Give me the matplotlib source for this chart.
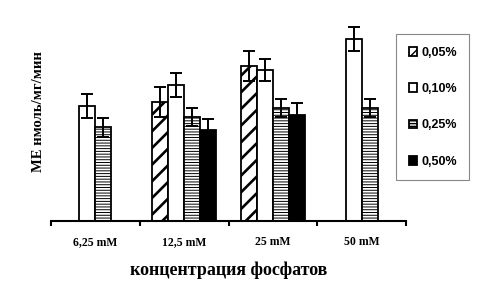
import numpy as np
import matplotlib
matplotlib.use('Agg')
import matplotlib.pyplot as plt

nan = np.nan

# concentration groups and detergent series
groups = ['6,25 mM', '12,5 mM', '25 mM', '50 mM']
series = ['0,05%', '0,10%', '0,25%', '0,50%']

vals_005 = [nan, 11.9, 15.5, nan]
vals_010 = [11.5, 13.6, 15.1, 18.2]
vals_025 = [9.4, 10.4, 11.3, 11.3]
vals_050 = [nan, 9.1, 10.6, nan]

err_005 = [nan, 1.5, 1.5, nan]
err_010 = [1.2, 1.2, 1.1, 1.2]
err_025 = [0.95, 0.9, 0.9, 0.9]
err_050 = [nan, 1.1, 1.2, nan]

values = [vals_005, vals_010, vals_025, vals_050]
errors = [err_005, err_010, err_025, err_050]
hatches = ['//', '', '------', '']
hatch_lw = [1.9, 1.0, 0.7, 1.0]
faces = ['white', 'white', 'white', 'black']

fig = plt.figure(figsize=(4.86, 2.87), dpi=100)
ax = fig.add_axes([51/486, 1 - 221/287, 355/486, 210/287])

width = 0.18
# bars present in each group are centered inside the group
xs = [[nan]*len(groups) for _ in series]
for g in range(len(groups)):
    present = [s for s in range(len(series)) if not np.isnan(values[s][g])]
    n = len(present)
    for k, s in enumerate(present):
        xs[s][g] = g + 0.5 + (k - (n - 1) / 2) * width

handles = []
for s in range(len(series)):
    x = np.array(xs[s])
    v = np.array(values[s])
    e = np.array(errors[s])
    m = ~np.isnan(v)
    with plt.rc_context({'hatch.linewidth': hatch_lw[s]}):
        b = ax.bar(x[m], v[m], width, color=faces[s], edgecolor='black',
                   linewidth=1.3, hatch=hatches[s], label=series[s], zorder=2)
    ax.errorbar(x[m], v[m], yerr=e[m], fmt='none', ecolor='black',
                elinewidth=1.4, capsize=4, capthick=1.4, zorder=3)
    handles.append(b)

ax.set_xlim(0, 4)
ax.set_ylim(0, 21)
for sp in ['left', 'right', 'top']:
    ax.spines[sp].set_visible(False)
ax.spines['bottom'].set_linewidth(1.5)
ax.set_yticks([])
ax.set_xticks([0, 1, 2, 3, 4])
ax.set_xticklabels([])
ax.tick_params(axis='x', which='major', direction='out', length=3.5, width=1.5)
ax.set_xticks([0.5, 1.5, 2.5, 3.5], minor=True)
ax.set_xticklabels(groups, minor=True, fontfamily='Liberation Serif',
                   fontweight='bold', fontsize=8.5)
ax.tick_params(axis='x', which='minor', length=0, pad=11)

fig.text(228.5/486, 1 - 270/287, 'концентрация фосфатов', ha='center',
         va='center', fontfamily='Liberation Serif', fontweight='bold',
         fontsize=13)
fig.text(39/486, 1 - 112/287, 'МЕ нмоль/мг/мин', ha='center', va='center',
         rotation=90, fontfamily='Liberation Serif', fontweight='bold',
         fontsize=10.5)

with plt.rc_context({'hatch.linewidth': 1.0}):
    leg = ax.legend(handles=handles, loc='upper left',
                    bbox_to_anchor=(396/486, 1 - 34/287),
                    bbox_transform=fig.transFigure, borderaxespad=0,
                    prop={'family': 'Liberation Sans', 'size': 9,
                          'weight': 'bold'},
                    handlelength=0.7, handleheight=0.7, handletextpad=0.3,
                    labelspacing=1.95, borderpad=1.0, fancybox=False,
                    edgecolor='#888888', framealpha=1)
leg.get_frame().set_linewidth(0.8)

fig.savefig('out.png', dpi=100)
